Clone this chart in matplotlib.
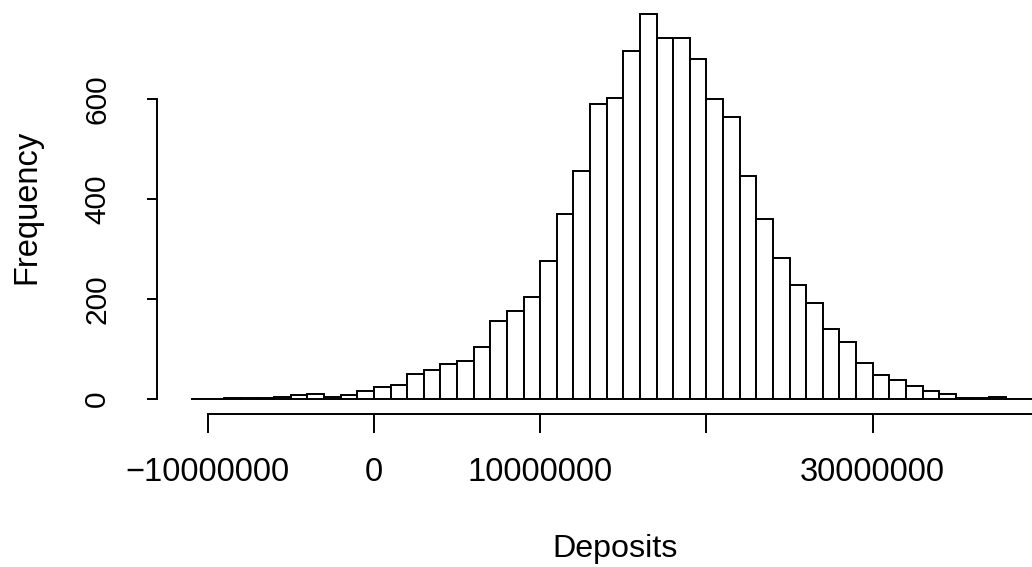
import numpy as np
import matplotlib
matplotlib.use("Agg")
import matplotlib.pyplot as plt

plt.rcParams["font.family"] = ["Liberation Sans", "DejaVu Sans"]

# Histogram of deposits: 1,000,000-wide bins starting at -11,000,000
bin_start = -11_000_000
bin_width = 1_000_000
counts = [1, 0, 2, 2, 3, 4, 8, 11, 5, 9,
          17, 25, 28, 50, 58, 71, 77, 105, 156, 177,
          205, 276, 370, 455, 590, 601, 696, 769, 721, 721,
          679, 600, 563, 446, 361, 283, 228, 193, 140, 115,
          73, 48, 39, 27, 17, 10, 3, 3, 4, 1,
          1]
x_ticks = [-10_000_000, 0, 10_000_000, 20_000_000, 30_000_000, 40_000_000]
x_tick_labels = ["\u221210000000", "0", "10000000", "", "30000000", ""]
y_ticks = [0, 200, 400, 600]
y_tick_labels = ["0", "200", "400", "600"]

left_edges = bin_start + bin_width * np.arange(len(counts))
lo, hi = left_edges[0], left_edges[-1] + bin_width
xpad = 0.04 * (hi - lo)
ypad = 0.04 * max(counts)

W, H = 1032, 567
fig = plt.figure(figsize=(W / 100, H / 100), dpi=100)
ax_left, ax_right = 157.2, 1072.9
ax_top, ax_bottom = -0.9, 414.4
ax = fig.add_axes([ax_left / W, 1 - ax_bottom / H,
                   (ax_right - ax_left) / W, (ax_bottom - ax_top) / H])

ax.bar(left_edges, counts, width=bin_width, align="edge",
       facecolor="white", edgecolor="black", linewidth=1.4)

ax.set_xlim(lo - xpad, hi + xpad)
ax.set_ylim(-ypad, max(counts) + ypad)

for s in ("top", "right"):
    ax.spines[s].set_visible(False)
ax.spines["bottom"].set_bounds(x_ticks[0], x_ticks[-1])
ax.spines["left"].set_bounds(y_ticks[0], y_ticks[-1])
for s in ("bottom", "left"):
    ax.spines[s].set_linewidth(1.4)

ax.set_xticks(x_ticks)
ax.set_xticklabels(x_tick_labels, fontsize=23.5)
ax.set_yticks(y_ticks)
ax.set_yticklabels(y_tick_labels, fontsize=21.5, rotation=90, va="center")
ax.tick_params(axis="x", length=13.7, width=1.4, pad=17)
ax.tick_params(axis="y", length=7.2, width=1.4, pad=26)

# Axis titles centred on the plotting region
cx = (ax_left + ax_right) / 2
cy = (ax_top + ax_bottom) / 2
fig.text(cx / W, 1 - 549 / H, "Deposits", ha="center", va="center", fontsize=23.2)
fig.text(27 / W, 1 - cy / H, "Frequency", ha="center", va="center",
         rotation=90, fontsize=23.5)

fig.savefig("out.png", dpi=100)
